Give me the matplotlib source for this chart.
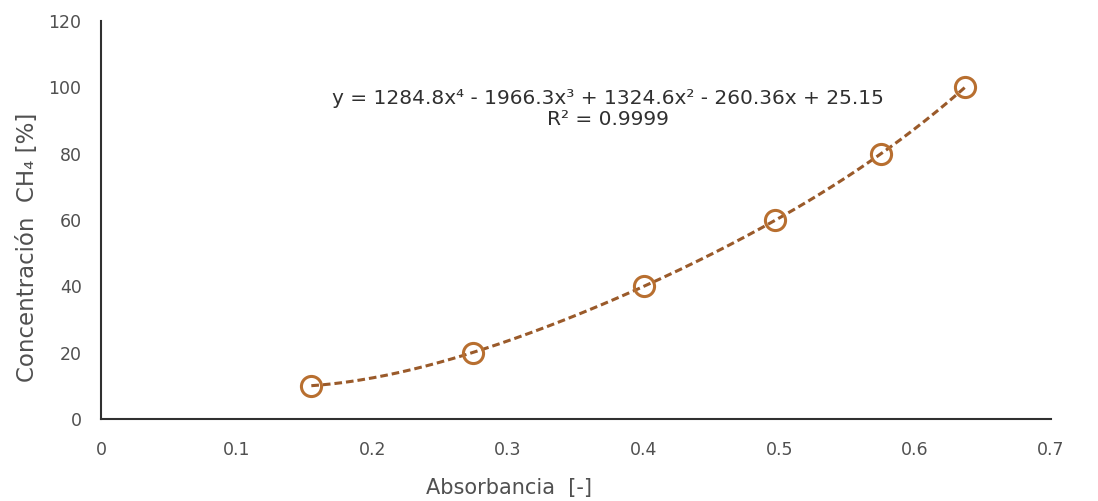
import numpy as np
import matplotlib
matplotlib.use("Agg")
import matplotlib.pyplot as plt

absorbancia = [0.155, 0.274, 0.400, 0.497, 0.575, 0.637]
concentracion = [10, 20, 40, 60, 80, 100]
coef = [1284.8, -1966.3, 1324.6, -260.36, 25.15]
x_ticks = [0, 0.1, 0.2, 0.3, 0.4, 0.5, 0.6, 0.7]
y_ticks = [0, 20, 40, 60, 80, 100, 120]
eq_text = "y = 1284.8x\u2074 - 1966.3x\u00b3 + 1324.6x\u00b2 - 260.36x + 25.15\nR\u00b2 = 0.9999"

plt.rcParams['font.family'] = ['DejaVu Sans']
fig = plt.figure(figsize=(10.98, 5.01), dpi=100)
ax = fig.add_axes([0.092, 0.1637, 0.865, 0.7944])

xs = np.linspace(min(absorbancia), max(absorbancia), 200)
ax.plot(xs, np.polyval(coef, xs), linestyle=(0, (2.5, 1.3)), color='#9a5a2a', lw=2.2, zorder=2)
ax.plot(absorbancia, concentracion, linestyle='none', marker='o', markersize=14.5,
        markerfacecolor='none', markeredgecolor='#b86f30', markeredgewidth=2.2, zorder=3)

ax.set_xlim(0, 0.7)
ax.set_ylim(0, 120)
ax.set_xticks(x_ticks)
ax.set_xticklabels([f"{t:g}" for t in x_ticks])
ax.set_yticks(y_ticks)
for s in ['top', 'right']:
    ax.spines[s].set_visible(False)
for s in ['left', 'bottom']:
    ax.spines[s].set_color('#303030')
    ax.spines[s].set_linewidth(1.5)
ax.tick_params(length=0, labelsize=12.5, labelcolor='#505050')
ax.tick_params(axis='x', pad=16)
ax.tick_params(axis='y', pad=14)
ax.set_xlabel("Absorbancia  [-]", fontsize=15, color='#505050', va='center')
ax.set_ylabel("Concentración  CH\u2084 [%]", fontsize=16.5, color='#505050', va='center')
ax.xaxis.set_label_coords(0.43, -0.173)
ax.yaxis.set_label_coords(-0.077, 0.432)
ax.text(0.3736, 93.4, eq_text, ha='center', va='center', fontsize=14.5, color='#303030',
        linespacing=1.1)

fig.savefig("out.png", dpi=100)
